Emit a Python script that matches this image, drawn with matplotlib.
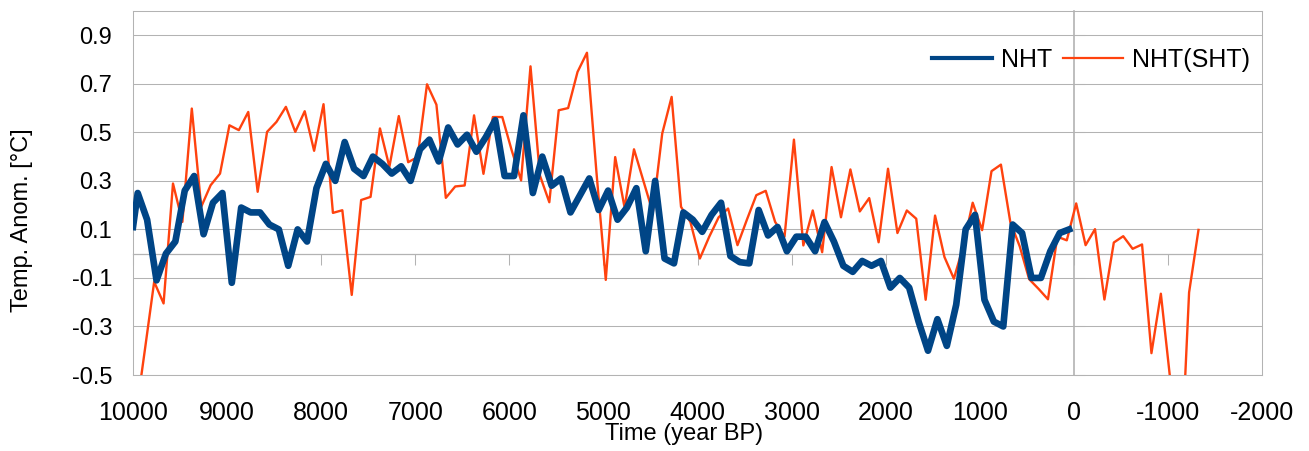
import numpy as np
import matplotlib.pyplot as plt

plt.rcParams['font.family'] = ['Liberation Sans', 'DejaVu Sans']
plt.rcParams['axes.unicode_minus'] = False

# NHT reconstruction (years BP)
nht_years = np.r_[10000, np.arange(9950, 0, -100)]
nht_temp = [0.11,
            0.25, 0.14, -0.11, 0.0, 0.05, 0.26, 0.32, 0.08, 0.21, 0.25,
            -0.12, 0.19, 0.17, 0.17, 0.12, 0.10, -0.05, 0.10, 0.05, 0.27,
            0.37, 0.30, 0.46, 0.35, 0.32, 0.40, 0.37, 0.33, 0.36, 0.30,
            0.43, 0.47, 0.38, 0.52, 0.45, 0.49, 0.42, 0.48, 0.55, 0.32,
            0.32, 0.57, 0.25, 0.40, 0.28, 0.31, 0.17, 0.24, 0.31, 0.18,
            0.26, 0.14, 0.19, 0.27, 0.01, 0.30, -0.02, -0.04, 0.17, 0.14,
            0.09, 0.16, 0.21, -0.01, -0.035, -0.04, 0.18, 0.075, 0.11, 0.01,
            0.07, 0.07, 0.01, 0.13, 0.05, -0.05, -0.075, -0.03, -0.05, -0.03,
            -0.14, -0.10, -0.14, -0.28, -0.40, -0.27, -0.38, -0.21, 0.10, 0.16,
            -0.19, -0.28, -0.30, 0.12, 0.085, -0.10, -0.10, 0.01, 0.085, 0.10]

# NHT(SHT) series
sht_years = np.arange(9975, -1400, -100)
sht_temp = [-0.68, -0.40, -0.116, -0.205, 0.289, 0.131, 0.598, 0.193, 0.282, 0.33,
            0.529, 0.509, 0.584, 0.255, 0.502, 0.543, 0.605, 0.502, 0.587, 0.424,
            0.616, 0.168, 0.179, -0.17, 0.221, 0.234, 0.516, 0.358, 0.567, 0.377,
            0.398, 0.698, 0.614, 0.23, 0.277, 0.281, 0.57, 0.329, 0.563, 0.563,
            0.426, 0.302, 0.772, 0.322, 0.212, 0.591, 0.60, 0.749, 0.828, 0.34,
            -0.108, 0.398, 0.19, 0.43, 0.30, 0.17, 0.495, 0.646, 0.193, 0.13,
            -0.02, 0.07, 0.15, 0.186, 0.035, 0.14, 0.241, 0.259, 0.131, 0.07,
            0.47, 0.034, 0.178, 0.006, 0.357, 0.15, 0.347, 0.174, 0.229, 0.047,
            0.35, 0.085, 0.178, 0.144, -0.19, 0.157, -0.014, -0.103, 0.03, 0.21,
            0.097, 0.34, 0.367, 0.13, 0.03, -0.105, -0.145, -0.188, 0.07, 0.055,
            0.207, 0.035, 0.101, -0.189, 0.046, 0.072, 0.02, 0.038, -0.41, -0.165,
            -0.52, -1.0, -0.16, 0.098]

x_ticks = np.arange(10000, -2001, -1000)
y_ticks = [-0.5, -0.3, -0.1, 0.1, 0.3, 0.5, 0.7, 0.9]
x_min, x_max = 10000, -2000
y_min, y_max = -0.5, 1.0

grey = '#b3b3b3'

fig = plt.figure(figsize=(13.09, 4.51), dpi=100)
ax = fig.add_axes([133/1309, 1 - 375/451, (1262 - 133)/1309, (375 - 11)/451])

ax.plot(nht_years, nht_temp, color='#004586', lw=4.8, solid_joinstyle='round',
        label='NHT', zorder=4)
ax.plot(sht_years, sht_temp, color='#ff420e', lw=1.7, label='NHT(SHT)', zorder=3)

ax.set_xlim(x_min, x_max)
ax.set_ylim(y_min, y_max)
ax.set_xticks(x_ticks)
ax.set_yticks(y_ticks)
ax.set_yticklabels(['{:.1f}'.format(v) for v in y_ticks])
ax.tick_params(axis='both', length=0)
ax.tick_params(axis='x', labelsize=18, pad=19)
ax.tick_params(axis='y', labelsize=17, pad=15)
ax.grid(axis='y', color=grey, lw=0.75)
for s in ax.spines.values():
    s.set_color(grey)
    s.set_linewidth(0.75)

# axis lines crossing at zero, with their small tick marks
zero_x = ax.secondary_xaxis((0 - y_min) / (y_max - y_min))
zero_x.set_xticks(x_ticks)
zero_x.tick_params(length=8, width=0.75, color=grey, labelbottom=False)
zero_x.spines['bottom'].set_color(grey)
zero_x.spines['bottom'].set_linewidth(0.9)

zero_y = ax.secondary_yaxis((x_min - 0) / (x_min - x_max))
zero_y.set_yticks(y_ticks)
zero_y.tick_params(length=8, width=0.75, color=grey, labelright=False)
zero_y.spines['right'].set_color(grey)
zero_y.spines['right'].set_linewidth(1.2)

leg = ax.legend(ncol=2, loc='center left',
                bbox_to_anchor=((932 - 133)/1129, (375 - 60)/364),
                frameon=False, fontsize=18, handlelength=2.4,
                handletextpad=0.35, columnspacing=0.45,
                borderpad=0, borderaxespad=0)
for h, w in zip(leg.legend_handles, [3, 1.6]):
    h.set_linewidth(w)

fig.text(684/1309, 1 - 440/451, 'Time (year BP)', fontsize=17,
         ha='center', va='baseline')
fig.text(22/1309, 1 - 220/451, 'Temp. Anom. [°C]', fontsize=17,
         rotation=90, ha='center', va='center')

fig.savefig('out.png', dpi=100)
